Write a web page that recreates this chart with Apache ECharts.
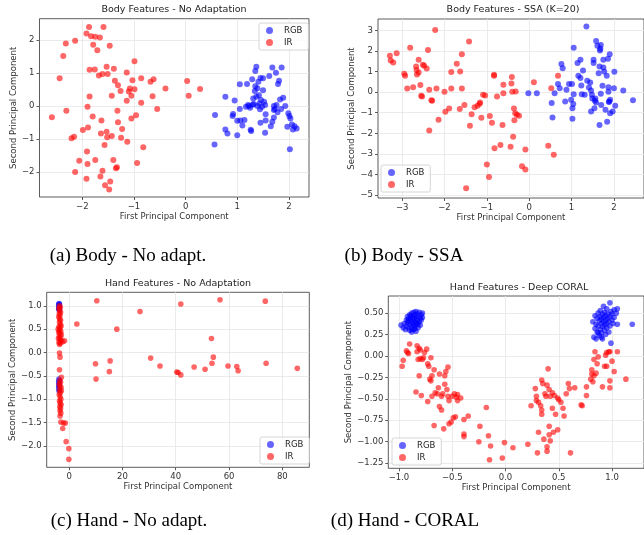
<!DOCTYPE html>
<html>
<head>
<meta charset="utf-8">
<script src="https://cdn.jsdelivr.net/npm/echarts@6/dist/echarts.min.js"></script>
<style>
  html, body { margin: 0; padding: 0; background: #fff; }
  #chart { width: 644px; height: 535px; }
</style>
</head>
<body>
<div id="chart"></div>
<script>
// (a) Body - No adaptation
var aRgb = [[0.57,-0.27],[0.56,-1.17],[0.77,0.28],[0.77,-0.71],[0.81,-0.83],[0.91,-0.30],[0.92,-0.24],[0.95,0.17],[1.00,-0.89],[1.00,-0.45],
  [1.05,0.66],[1.05,-0.09],[1.06,-0.44],[1.10,-0.59],[1.14,-0.42],[1.17,-0.02],[1.19,0.67],[1.21,0.03],[1.23,0.00],[1.25,-0.05],
  [1.26,-0.72],[1.27,-0.76],[1.29,0.81],[1.31,0.23],[1.32,0.06],[1.34,0.46],[1.35,0.60],[1.35,1.06],[1.37,1.19],[1.37,0.28],
  [1.39,0.54],[1.39,0.00],[1.41,0.74],[1.42,0.33],[1.43,0.08],[1.44,-0.10],[1.45,-0.51],[1.46,0.18],[1.48,-0.02],[1.50,0.84],
  [1.50,0.48],[1.52,0.13],[1.54,0.03],[1.54,-0.81],[1.55,-0.25],[1.55,-0.44],[1.62,0.91],[1.65,-0.61],[1.68,1.17],[1.71,-0.12],
  [1.71,-0.35],[1.73,-0.09],[1.75,1.01],[1.76,0.03],[1.78,-0.19],[1.79,0.67],[1.81,0.77],[1.83,0.20],[1.85,-0.09],[1.86,1.17],
  [1.89,0.25],[1.93,0.00],[1.97,-0.63],[1.99,-0.22],[2.01,-0.30],[2.02,-1.31],[2.03,-0.38],[2.06,-0.56],[2.08,-0.71],[2.11,-0.61],
  [2.15,-0.68],[1.68,-0.48],[1.71,0.00],[1.45,0.85],[1.30,0.04]];
var aIr = [[-2.59,-0.34],[-2.44,0.84],[-2.37,1.52],[-2.32,1.90],[-2.31,-0.14],[-2.21,-0.98],[-2.16,-0.93],[-2.14,1.98],[-2.14,-2.00],[-2.06,-1.66],
  [-1.99,-0.73],[-1.92,2.20],[-1.91,-1.38],[-1.90,-1.76],[-1.92,-2.21],[-1.90,-0.02],[-1.89,-0.65],[-1.87,2.40],[-1.86,1.10],[-1.86,0.29],
  [-1.83,2.12],[-1.80,-0.32],[-1.79,1.86],[-1.76,1.11],[-1.75,2.10],[-1.75,-1.64],[-1.71,1.69],[-1.68,0.93],[-1.66,2.08],[-1.65,-2.14],
  [-1.64,-0.83],[-1.63,-0.44],[-1.61,0.97],[-1.61,-1.96],[-1.59,2.40],[-1.57,-1.18],[-1.56,-2.40],[-1.53,1.19],[-1.53,-0.78],[-1.51,0.97],
  [-1.52,-0.95],[-1.48,-2.53],[-1.47,1.83],[-1.46,-2.29],[-1.43,0.31],[-1.43,-0.91],[-1.40,-1.64],[-1.39,1.13],[-1.37,0.77],[-1.35,-1.89],
  [-1.33,-1.86],[-1.32,-0.14],[-1.31,0.63],[-1.31,-0.49],[-1.26,0.46],[-1.25,-0.96],[-1.23,-0.70],[-1.14,1.02],[-1.13,-1.08],[-1.14,0.16],
  [-1.10,0.44],[-1.08,0.53],[-1.05,-0.38],[-1.05,0.31],[-1.03,0.78],[-0.99,0.51],[-0.99,1.36],[-0.96,-0.28],[-0.94,-1.73],[-0.86,0.10],
  [-0.86,0.84],[-0.82,-1.25],[-0.68,0.74],[-0.64,0.30],[-0.62,0.81],[-0.55,-0.09],[-0.39,0.53],[0.03,0.76],[0.06,0.31],[0.28,0.52]];

// (b) Body - SSA (K=20)
var bRgb = [[-0.02,-0.06],[0.18,-0.06],[0.53,-0.53],[0.55,-1.23],[0.60,-0.05],[0.68,0.39],[0.72,0.19],[0.76,1.36],[0.79,1.16],[0.85,-0.45],
  [0.88,0.11],[0.94,0.39],[0.99,-0.37],[1.01,0.39],[1.02,-0.78],[1.02,-1.29],[1.04,-0.58],[1.05,2.16],[1.05,-0.10],[1.14,1.41],
  [1.16,0.79],[1.21,1.57],[1.21,0.68],[1.23,0.32],[1.24,-0.10],[1.27,1.05],[1.31,-0.13],[1.35,3.18],[1.37,0.55],[1.41,0.23],
  [1.44,0.47],[1.46,0.08],[1.46,-0.94],[1.48,-0.13],[1.49,-0.31],[1.52,1.41],[1.52,1.57],[1.54,-0.78],[1.55,-0.42],[1.56,-0.31],
  [1.58,2.48],[1.58,-0.50],[1.61,2.25],[1.64,0.92],[1.66,1.24],[1.66,-1.59],[1.67,2.02],[1.69,2.29],[1.69,-0.08],[1.70,-0.63],
  [1.73,0.31],[1.75,1.57],[1.75,1.20],[1.77,1.00],[1.80,-0.86],[1.83,0.79],[1.84,-1.44],[1.86,1.62],[1.87,0.24],[1.87,0.02],
  [1.89,-0.45],[1.91,-0.37],[1.90,1.84],[1.91,-1.02],[1.97,-0.94],[2.00,0.19],[2.01,0.99],[2.03,-0.66],[2.22,0.08],[2.45,-0.40],
  [1.88,-0.48],[1.68,2.10]];
var bIr = [[-3.29,1.76],[-3.27,1.53],[-3.21,1.44],[-3.13,1.89],[-2.95,0.89],[-2.93,0.79],[-2.88,0.18],[-2.81,2.16],[-2.74,0.24],[-2.67,1.24],
  [-2.66,1.08],[-2.65,0.86],[-2.61,1.57],[-2.61,0.95],[-2.57,0.34],[-2.55,-0.18],[-2.53,-0.21],[-2.51,1.33],[-2.48,1.28],[-2.42,1.15],
  [-2.39,2.05],[-2.36,0.11],[-2.36,-1.86],[-2.31,-0.40],[-2.29,-0.42],[-2.22,3.02],[-2.19,0.18],[-2.14,-1.34],[-2.00,0.02],[-1.98,-0.95],
  [-1.89,-0.79],[-1.84,0.18],[-1.84,0.98],[-1.71,1.38],[-1.64,-0.82],[-1.63,1.00],[-1.59,1.84],[-1.59,0.18],[-1.53,-0.63],[-1.49,-4.67],
  [-1.42,2.46],[-1.40,-1.63],[-1.36,-1.07],[-1.29,-0.73],[-1.22,-0.66],[-1.17,-0.57],[-1.16,-0.50],[-1.13,-1.24],[-1.09,-0.13],[-1.04,-0.16],
  [-1.00,-3.51],[-0.95,-4.12],[-0.93,-1.16],[-0.88,-1.49],[-0.83,0.84],[-0.83,0.79],[-0.82,-2.73],[-0.76,-0.21],[-0.68,-2.57],[-0.63,-1.60],
  [-0.61,-0.05],[-0.61,0.36],[-0.44,-2.65],[-0.42,0.42],[-0.41,0.73],[-0.40,0.02],[-0.38,-2.17],[-0.36,-0.79],[-0.35,-1.37],[-0.32,0.03],
  [-0.33,-1.03],[-0.29,-1.10],[-0.24,-1.15],[-0.17,-3.60],[-0.09,-3.76],[-0.09,-2.79],[0.11,0.48],[0.45,-2.60],[0.52,0.19],[0.58,-3.04],
  [0.68,0.79]];

// (c) Hand - No adaptation
var cRgb = [[-3.8,1.05],[-3.6,1.04],[-3.9,1.02],[-3.7,1.00],[-3.8,0.97],[-3.6,0.95],[-3.9,0.93],[-3.7,0.91],
  [-3.8,-0.57],[-3.6,-0.60],[-3.9,-0.63],[-3.7,-0.66],[-3.8,-0.70],[-3.9,-0.74],[-3.7,-0.78],[-3.8,-0.82]];
var cIr = [[-3.6,1.00],[-3.3,0.97],[-3.8,0.94],[-3.5,0.90],[-3.2,0.86],[-3.7,0.83],[-3.4,0.80],[-3.9,0.76],[-3.5,0.72],[-3.2,0.69],
  [-3.6,0.65],[-3.3,0.60],[-3.0,0.57],[-3.8,0.55],[-3.4,0.52],[-4.1,0.50],[-3.6,0.47],[-3.1,0.45],[-3.9,0.43],[-3.4,0.40],
  [-2.9,0.38],[-3.7,0.35],[-3.2,0.32],[-4.0,0.30],[-3.5,0.28],[-3.0,0.25],[-3.8,0.22],[-3.3,0.20],[-3.6,0.17],[-2.4,0.23],
  [-1.7,0.25],[-3.6,-0.01],[-3.4,-0.10],[-3.6,-0.37],[-2.9,-0.53],
  [-3.5,-0.60],[-3.2,-0.64],[-3.7,-0.68],[-3.4,-0.72],[-3.0,-0.75],[-3.6,-0.80],[-2.9,-0.82],[-3.3,-0.86],[-3.7,-0.90],[-3.4,-0.95],
  [-3.1,-1.00],[-3.6,-1.04],[-3.3,-1.08],[-3.0,-1.12],[-3.5,-1.16],[-3.2,-1.20],[-3.4,-1.25],[-3.1,-1.30],[-3.4,-1.36],[-3.1,-1.49],
  [-2.1,-1.51],[-1.4,-1.51],[-2.4,-1.63],[-1.1,-1.91],[-0.1,-2.06],[-0.1,-2.29],
  [2.9,0.61],[10.4,1.11],[9.9,-0.24],[10.1,-0.57],[15.1,-0.41],[15.4,-0.18],[17.9,0.50],[26.6,0.88],[30.6,-0.12],[34.1,-0.29],
  [40.4,-0.42],[40.9,-0.43],[41.9,1.04],[41.9,-0.48],[46.9,-0.31],[51.0,-0.36],[53.4,0.30],[53.6,-0.23],[54.1,-0.10],[56.6,1.13],
  [59.6,-0.29],[62.9,-0.30],[63.4,-0.39],[73.6,1.10],[73.9,-0.23],[85.6,-0.34]];

// (d) Hand - Deep CORAL
var dRgb = [[-0.98,0.36],[-0.96,0.33],[-0.95,0.38],[-0.94,0.31],[-0.93,0.42],[-0.93,0.35],[-0.92,0.46],[-0.92,0.39],[-0.91,0.33],[-0.91,0.43],
  [-0.90,0.48],[-0.90,0.37],[-0.90,0.30],[-0.89,0.44],[-0.89,0.40],[-0.88,0.50],[-0.88,0.34],[-0.88,0.28],[-0.87,0.46],[-0.87,0.42],
  [-0.87,0.38],[-0.86,0.51],[-0.86,0.31],[-0.86,0.44],[-0.85,0.48],[-0.85,0.40],[-0.85,0.35],[-0.84,0.52],[-0.84,0.45],[-0.84,0.29],
  [-0.83,0.42],[-0.83,0.37],[-0.83,0.49],[-0.82,0.33],[-0.82,0.46],[-0.81,0.51],[-0.81,0.40],[-0.80,0.44],[-0.80,0.36],[-0.79,0.48],
  [-0.79,0.42],[-0.78,0.45],[-0.78,0.50],[-0.89,0.47],[-0.91,0.41],[-0.86,0.36],[-0.84,0.39],[-0.88,0.31],[-0.85,0.32],[-0.82,0.38],
  [0.82,0.40],[0.83,0.22],[0.84,0.32],[0.84,0.47],[0.85,0.37],[0.85,0.20],[0.86,0.44],[0.86,0.28],[0.87,0.50],[0.87,0.35],
  [0.88,0.41],[0.88,0.24],[0.89,0.46],[0.89,0.31],[0.89,0.53],[0.90,0.38],[0.90,0.43],[0.90,0.27],[0.91,0.49],[0.91,0.34],
  [0.91,0.20],[0.92,0.45],[0.92,0.40],[0.92,0.58],[0.93,0.51],[0.93,0.36],[0.93,0.30],[0.94,0.47],[0.94,0.42],[0.94,0.25],
  [0.95,0.55],[0.95,0.38],[0.95,0.33],[0.96,0.44],[0.96,0.49],[0.97,0.40],[0.97,0.28],[0.98,0.62],[0.98,0.46],[0.98,0.35],
  [0.99,0.52],[0.99,0.15],[1.00,0.42],[1.00,0.49],[1.01,0.38],[1.02,0.54],[1.02,0.45],[1.04,0.50],[1.05,0.55],[1.05,0.37],
  [1.19,0.37],[0.90,0.22],[0.87,0.27]];
var dIr = [[-0.90,0.14],[-0.93,0.06],[-0.92,0.04],[-0.91,0.03],[-0.96,-0.05],[-0.97,-0.12],[-0.83,0.12],[-0.81,0.09],[-0.80,0.07],[-0.83,0.05],
  [-0.82,-0.04],[-0.80,-0.03],[-0.78,-0.04],[-0.77,-0.02],[-0.76,0.04],[-0.74,0.08],[-0.73,-0.09],[-0.72,-0.12],[-0.70,-0.02],[-0.81,-0.23],
  [-0.84,-0.42],[-0.79,-0.46],[-0.73,-0.53],[-0.71,-0.27],[-0.70,-0.29],[-0.69,-0.23],[-0.67,-0.16],[-0.69,-0.47],[-0.67,-0.81],[-0.66,-0.43],
  [-0.64,-0.44],[-0.63,-0.37],[-0.62,-0.21],[-0.62,-0.59],[-0.60,-0.47],[-0.60,-0.63],[-0.59,-0.44],[-0.58,-0.85],[-0.57,-0.23],[-0.57,-0.33],
  [-0.56,-0.18],[-0.55,-0.39],[-0.54,-0.13],[-0.54,-0.47],[-0.53,-0.52],[-0.50,-0.47],[-0.48,-0.44],[-0.46,-0.48],[-0.45,-0.52],[-0.45,-0.45],
  [-0.53,-0.79],[-0.51,-0.77],[-0.49,-0.72],[-0.47,-0.71],[-0.42,-0.49],[-0.39,-0.91],[-0.39,-0.94],[-0.39,-0.74],[-0.35,-0.70],[-0.24,-0.82],
  [-0.25,-1.00],[-0.18,-0.60],[-0.16,-0.93],[-0.14,-1.05],[-0.15,-1.21],[-0.03,-1.19],[-0.01,-1.01],[0.07,-1.07],[0.21,-1.03],[0.24,-0.58],
  [0.28,-0.38],[0.30,-1.13],[0.29,-0.47],[0.29,-0.52],[0.31,-0.54],[0.31,-0.89],[0.33,-0.58],[0.34,-0.68],[0.34,-0.63],[0.34,-0.28],
  [0.35,-0.32],[0.36,-0.97],[0.37,-0.44],[0.38,-0.47],[0.39,-1.06],[0.39,-1.11],[0.39,-0.34],[0.40,-0.15],[0.41,-0.82],[0.41,-0.92],
  [0.41,-0.39],[0.42,-0.47],[0.42,-0.99],[0.44,-0.43],[0.44,-0.61],[0.45,-0.89],[0.46,-0.46],[0.47,-0.68],[0.49,-0.49],[0.49,-0.86],
  [0.50,-0.51],[0.52,-0.54],[0.54,-0.61],[0.55,-0.70],[0.57,-0.44],[0.59,-0.32],[0.60,-0.38],[0.61,-1.13],[0.65,-0.37],[0.71,-0.57],
  [0.72,-0.58],[0.76,-0.46],[0.76,-0.36],[0.80,-0.27],[0.81,-0.21],[0.81,-0.16],[0.82,-0.30],[0.83,-0.23],[0.83,-0.04],[0.84,0.05],
  [0.85,-0.20],[0.86,-0.09],[0.87,-0.01],[0.91,-0.36],[0.93,-0.12],[0.94,0.01],[0.95,-0.12],[0.95,0.04],[0.97,0.05],[0.98,-0.29],
  [0.98,-0.37],[0.98,0.05],[1.00,-0.06],[1.02,-0.18],[1.05,0.05],[1.13,-0.27]];

// tick labels
var aXTicks = [-2, -1, 0, 1, 2];
var aYTicks = [-2, -1, 0, 1, 2];
var bXTicks = [-3, -2, -1, 0, 1, 2];
var bYTicks = [-5, -4, -3, -2, -1, 0, 1, 2, 3];
var cXTicks = [0, 20, 40, 60, 80];
var cYTicks = [-2.0, -1.5, -1.0, -0.5, 0.0, 0.5, 1.0];
var dXTicks = [-1.0, -0.5, 0.0, 0.5, 1.0];
var dYTicks = [-1.25, -1.00, -0.75, -0.50, -0.25, 0.00, 0.25, 0.50];

var titles = ['Body Features - No Adaptation', 'Body Features - SSA (K=20)', 'Hand Features - No Adaptation', 'Hand Features - Deep CORAL'];
var captions = ['(a) Body - No adapt.', '(b) Body - SSA', '(c) Hand - No adapt.', '(d) Hand - CORAL'];

var font = 'DejaVu Sans';

function fmt(dec) {
    return function (v) {
        var s = Number(v).toFixed(dec);
        if (Number(s) === 0) s = Number(0).toFixed(dec);
        return s.replace('-', '\u2212');
    };
}

// panel layout: grid, axis ranges
var panels = [
    {grid: {left: 39.5, top: 18.7, width: 269.5, height: 178.3}, x: [-2.83, 2.39], y: [-2.76, 2.65],
     xt: aXTicks, yt: aYTicks, xd: 0, yd: 0, yGap: 21, title: [174, 5], sym: 6},
    {grid: {left: 378, top: 19, width: 269, height: 179}, x: [-3.57, 2.71], y: [-5.14, 3.55],
     xt: bXTicks, yt: bYTicks, xd: 0, yd: 0, yGap: 21, title: [513, 5], sym: 6},
    {grid: {left: 46.7, top: 292.3, width: 262.6, height: 175}, x: [-8.4, 90.1], y: [-2.46, 1.29],
     xt: cXTicks, yt: cYTicks, xd: 0, yd: 1, yGap: 28, title: [178, 279], sym: 5.6},
    {grid: {left: 388.3, top: 296, width: 258.4, height: 172.3}, x: [-1.10, 1.30], y: [-1.31, 0.70],
     xt: dXTicks, yt: dYTicks, xd: 1, yd: 2, yGap: 31, title: [519, 283], sym: 5.6}
];

var legends = [
    {left: 259, top: 23},
    {left: 381, top: 165},
    {left: 260, top: 437},
    {left: 392, top: 438}
];

var data = [[aRgb, aIr], [bRgb, bIr], [cRgb, cIr], [dRgb, dIr]];

var grid = [], xAxis = [], yAxis = [], series = [], title = [], legend = [];
var axisTxt = {color: '#333', fontSize: 8.5, fontFamily: font};

panels.forEach(function (p, i) {
    grid.push(Object.assign({show: true, borderColor: '#333', borderWidth: 0.8, backgroundColor: 'transparent'}, p.grid));
    xAxis.push({
        type: 'value', gridIndex: i, min: p.x[0], max: p.x[1],
        name: 'First Principal Component', nameLocation: 'middle', nameGap: 15,
        nameTextStyle: axisTxt,
        axisLine: {show: false, onZero: false},
        axisTick: {show: true, length: 3, lineStyle: {color: '#333', width: 0.8}, customValues: p.xt},
        axisLabel: Object.assign({margin: 5, formatter: fmt(p.xd), customValues: p.xt}, axisTxt),
        splitLine: {show: true, lineStyle: {color: '#e6e6e6', width: 0.8}}
    });
    yAxis.push({
        type: 'value', gridIndex: i, min: p.y[0], max: p.y[1],
        name: 'Second Principal Component', nameLocation: 'middle', nameGap: p.yGap,
        nameTextStyle: axisTxt,
        axisLine: {show: false, onZero: false},
        axisTick: {show: true, length: 3, lineStyle: {color: '#333', width: 0.8}, customValues: p.yt},
        axisLabel: Object.assign({margin: 5, formatter: fmt(p.yd), customValues: p.yt}, axisTxt),
        splitLine: {show: true, lineStyle: {color: '#e6e6e6', width: 0.8}}
    });
    title.push({
        text: titles[i], left: p.title[0], top: p.title[1], textAlign: 'center', padding: 0,
        textStyle: {fontFamily: font, fontSize: 9.5, fontWeight: 'normal', color: '#222'}
    });
    series.push({
        name: 'RGB', type: 'scatter', xAxisIndex: i, yAxisIndex: i, symbolSize: p.sym,
        itemStyle: {color: '#0000ff', opacity: 0.6}, data: data[i][0], silent: true
    });
    series.push({
        name: 'IR', type: 'scatter', xAxisIndex: i, yAxisIndex: i, symbolSize: p.sym,
        itemStyle: {color: '#ff0000', opacity: 0.6}, data: data[i][1], silent: true
    });
    legend.push({
        data: ['RGB', 'IR'], left: legends[i].left, top: legends[i].top, orient: 'vertical',
        icon: 'circle', itemWidth: 7, itemHeight: 7, itemGap: 3,
        padding: [3, 6, 3, 7], backgroundColor: 'rgba(255,255,255,0.8)',
        borderColor: '#cccccc', borderWidth: 0.8, borderRadius: 2,
        selectedMode: false,
        textStyle: {fontFamily: font, fontSize: 8.5, color: '#222', padding: [0, 0, 0, 6]}
    });
});

// figure captions
var capPos = [[128, 247], [404, 247], [129, 512], [405, 512]];
captions.forEach(function (c, i) {
    title.push({
        text: c, left: capPos[i][0], top: capPos[i][1], textAlign: 'center', padding: 0,
        textStyle: {fontFamily: 'Liberation Serif', fontSize: 19, fontWeight: 'normal', color: '#000'}
    });
});

var chart = echarts.init(document.getElementById('chart'), null, {renderer: 'canvas'});
chart.setOption({
    animation: false,
    backgroundColor: '#fff',
    title: title,
    legend: legend,
    grid: grid,
    xAxis: xAxis,
    yAxis: yAxis,
    series: series
});
</script>
</body>
</html>
